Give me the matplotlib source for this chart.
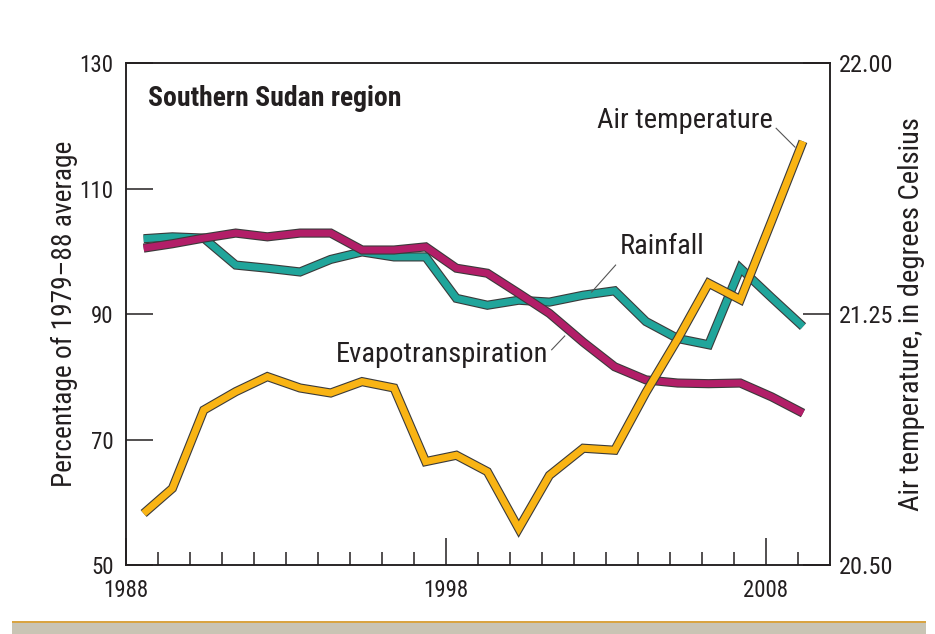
import matplotlib
matplotlib.use("Agg")
import matplotlib.pyplot as plt
import matplotlib.patheffects as pe
from matplotlib.patches import Rectangle
from matplotlib.ticker import FixedLocator, FormatStrFormatter

plt.rcParams['font.family'] = ['Roboto Condensed', 'Archivo Narrow', 'Liberation Sans', 'DejaVu Sans']

# Data
x_pos = [1988.55, 1989.45, 1990.43, 1991.43, 1992.42, 1993.44, 1994.4, 1995.38,
         1996.38, 1997.37, 1998.33, 1999.3, 2000.28, 2001.24, 2002.3, 2003.28,
         2004.26, 2005.25, 2006.22, 2007.21, 2008.19, 2009.17]
rainfall = [102.0, 102.3, 102.1, 97.8, 97.3, 96.7, 98.7, 99.9, 99.1, 99.1, 92.5,
            91.4, 92.2, 91.9, 93.0, 93.7, 88.8, 86.1, 85.1, 97.3, 92.6, 88.0]
evapo = [100.5, 101.2, 102.1, 102.9, 102.3, 102.9, 102.9, 100.2, 100.2, 100.7, 97.3,
         96.5, 93.3, 90.1, 85.5, 81.6, 79.5, 79.0, 78.9, 79.0, 76.8, 74.2]
air_temp = [20.654, 20.729, 20.963, 21.018, 21.063, 21.029, 21.014, 21.048, 21.029,
            20.809, 20.828, 20.779, 20.609, 20.768, 20.849, 20.843, 21.016, 21.175,
            21.342, 21.293, 21.528, 21.766]

left_ticks = [50, 70, 90, 110, 130]
right_ticks = [20.50, 21.25, 22.00]
year_ticks = [1988, 1998, 2008]
minor_years = [y for y in range(1989, 2010) if y not in year_ticks]

teal = '#20a59b'
magenta = '#b21e68'
orange = '#f9b414'
ink = '#231f20'

fig = plt.figure(figsize=(9.35, 6.34), dpi=100)
ax = fig.add_axes([0.1348, 0.1088, 0.7524, 0.7918])
ax2 = ax.twinx()

outline = [pe.Stroke(linewidth=6.6, foreground='#3a3a3a'), pe.Normal()]
ax.plot(x_pos, rainfall, color=teal, lw=5.0, solid_joinstyle='miter',
        solid_capstyle='butt', path_effects=outline, zorder=3)
ax.plot(x_pos, evapo, color=magenta, lw=5.0, solid_joinstyle='miter',
        solid_capstyle='butt', path_effects=outline, zorder=4)
ax2.plot(x_pos, air_temp, color=orange, lw=5.0, solid_joinstyle='miter',
         solid_capstyle='butt', path_effects=outline, zorder=5)

ax.set_xlim(1988, 2010)
ax.set_ylim(50, 130)
ax2.set_ylim(20.5, 22.0)

ax.xaxis.set_major_locator(FixedLocator(year_ticks))
ax.xaxis.set_minor_locator(FixedLocator(minor_years))
ax.set_yticks(left_ticks)
ax2.set_yticks(right_ticks)
ax2.yaxis.set_major_formatter(FormatStrFormatter('%.2f'))

ax.tick_params(axis='x', which='major', direction='in', length=19.5, width=1.1,
               color=ink, labelsize=16.5, labelcolor=ink, pad=10)
ax.tick_params(axis='x', which='minor', direction='in', length=9.5, width=1.1, color=ink)
ax.tick_params(axis='y', direction='in', length=19.5, width=1.1, color=ink,
               labelsize=16.5, labelcolor=ink, pad=9)
ax2.tick_params(axis='y', direction='in', length=19.5, width=1.1, color=ink,
                labelsize=17.5, labelcolor=ink, pad=7)

for a in (ax, ax2):
    for s in a.spines.values():
        s.set_color(ink)
        s.set_linewidth(1.1)

ax.set_ylabel('Percentage of 1979–88 average', fontsize=19.7, color=ink, labelpad=1)
ax2.set_ylabel('Air temperature, in degrees Celsius', fontsize=20.5, color=ink, labelpad=3)

ax.text(0.031, 0.93, 'Southern Sudan region', transform=ax.transAxes,
        fontsize=20, fontweight='bold', color=ink, ha='left', va='center')

# series labels with leader lines
ax.text(2008.22, 120.9, 'Air temperature', fontsize=20.5, color=ink, ha='right', va='center')
ax.plot([2008.33, 2008.92], [119.6, 116.6], color='#555555', lw=0.8, zorder=6)
ax.text(2003.45, 100.8, 'Rainfall', fontsize=20.5, color=ink, ha='left', va='center')
ax.plot([2003.31, 2002.56], [97.8, 93.5], color='#555555', lw=0.8, zorder=6)
ax.text(2001.2, 83.5, 'Evapotranspiration', fontsize=20.5, color=ink, ha='right', va='center')
ax.plot([2001.31, 2001.72], [84.3, 86.5], color='#555555', lw=0.8, zorder=6)

# tan strip at the bottom
fig.patches.append(Rectangle((0.013, 0.0), 0.977, 0.017, transform=fig.transFigure,
                             facecolor='#c9c4b4', edgecolor='none'))
fig.patches.append(Rectangle((0.013, 0.017), 0.977, 0.003, transform=fig.transFigure,
                             facecolor='#d9a441', edgecolor='none'))

fig.savefig('out.png', dpi=100)
